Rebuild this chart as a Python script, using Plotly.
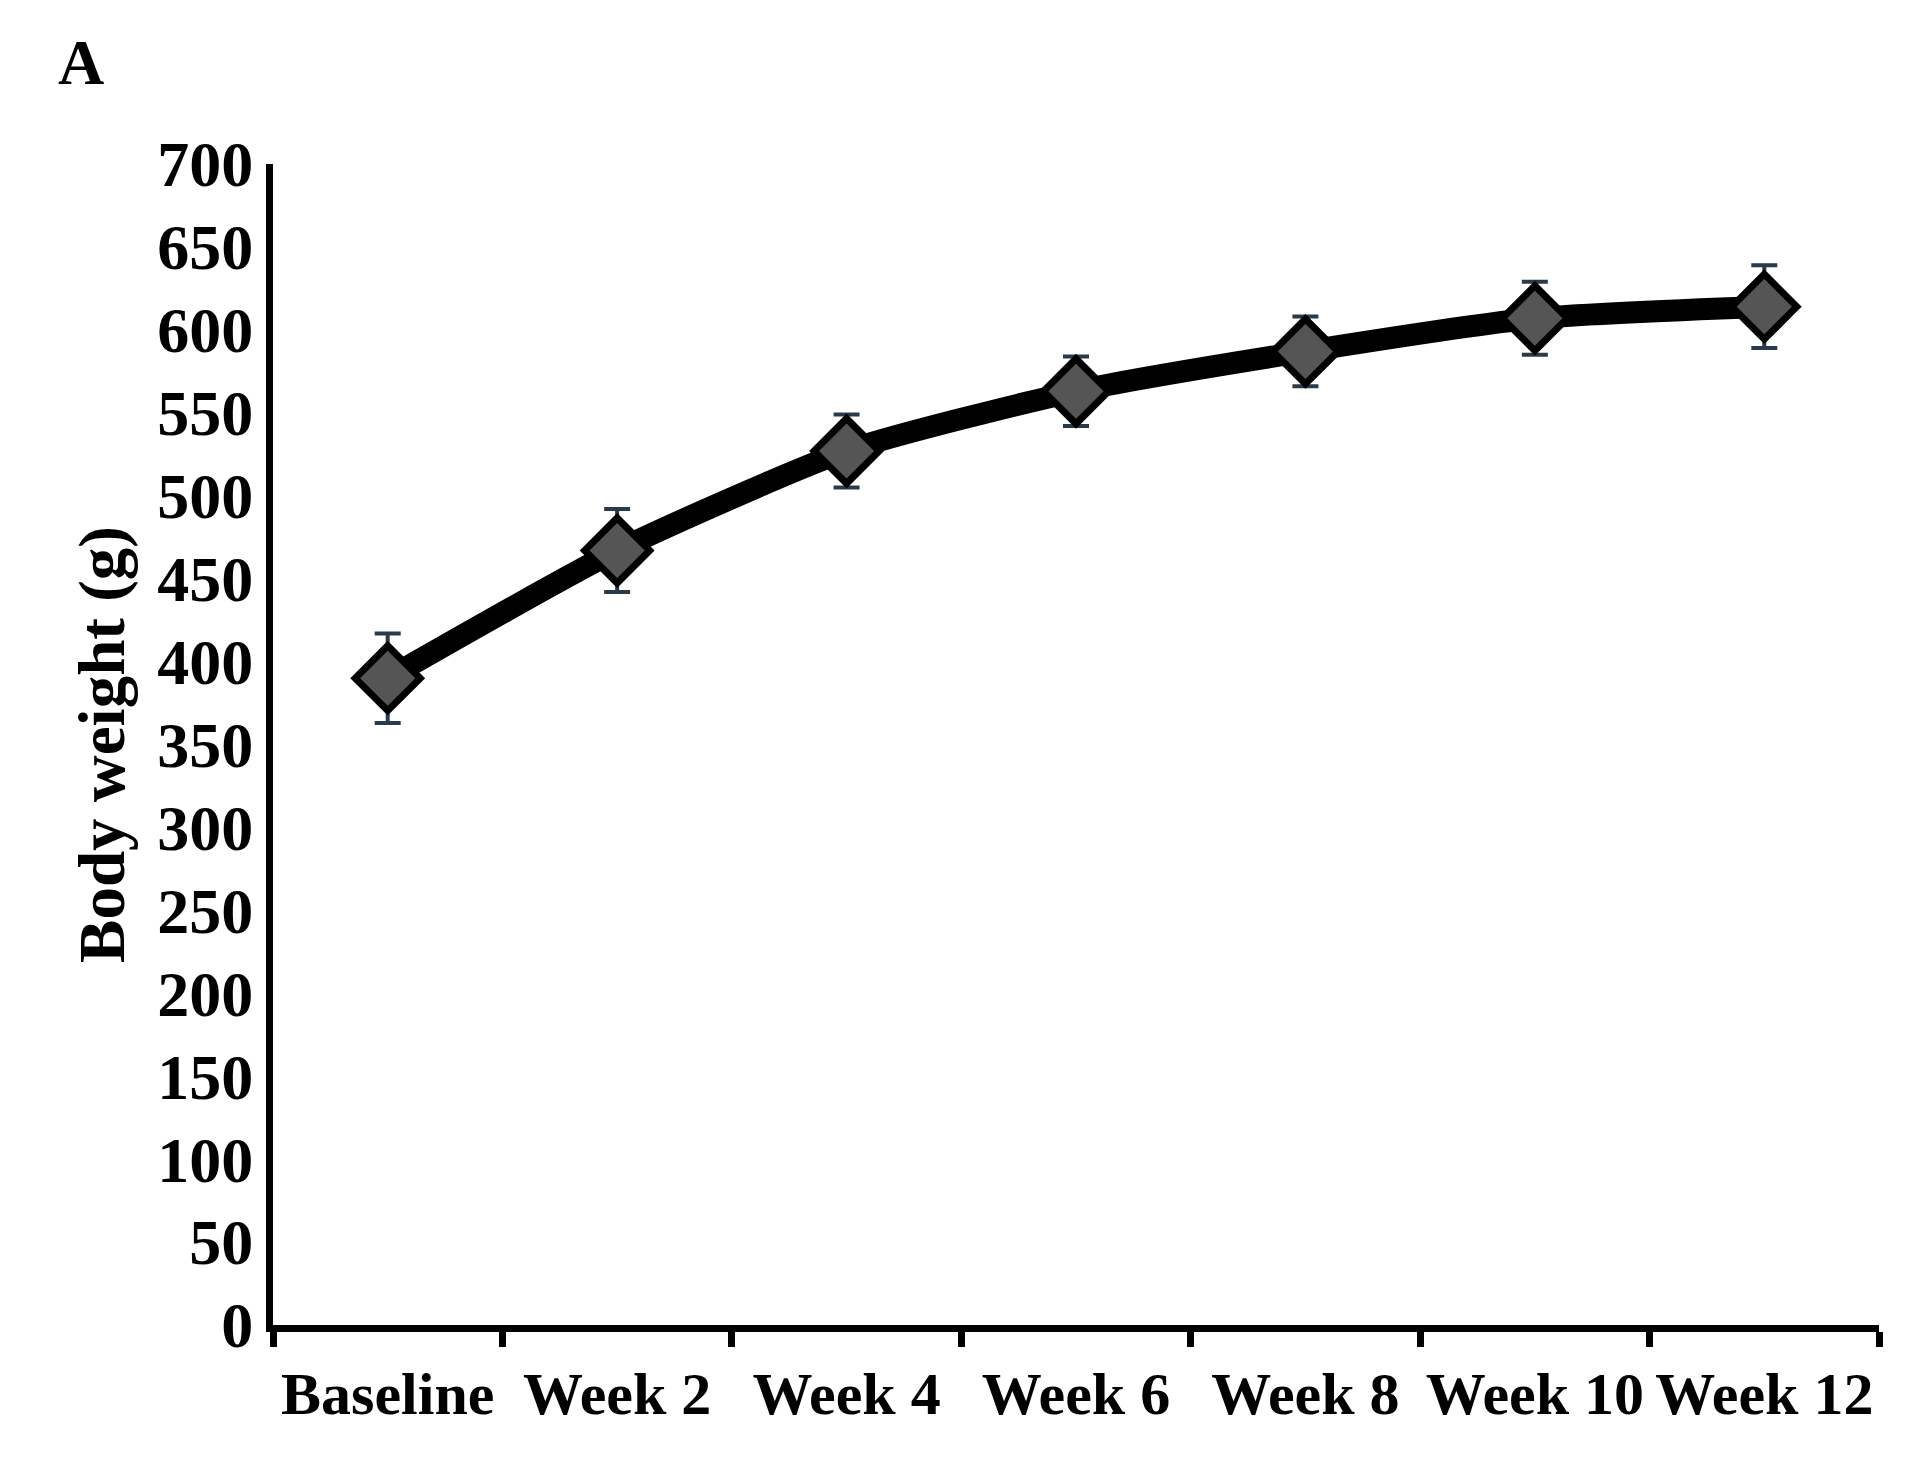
import plotly.graph_objects as go

labels = ["Baseline", "Week 2", "Week 4", "Week 6", "Week 8", "Week 10", "Week 12"]
weights = [390, 467, 527, 563, 587, 607, 614]
errors = [27, 25, 22, 21, 21, 22, 25]

xs = list(range(len(labels)))
W, H = 1920, 1462
L, R, T, B = 265, 49, 156, 145
serif = "Liberation Serif"

fig = go.Figure()
fig.add_trace(go.Scatter(
    x=xs, y=weights, mode="lines+markers",
    line=dict(color="black", width=22, shape="spline", smoothing=0.6),
    marker=dict(symbol="diamond", size=50, color="#555555",
                line=dict(color="black", width=7)),
    error_y=dict(type="data", array=errors, color="#2b3a4a", thickness=4, width=13),
    showlegend=False,
))
# invisible trace on the label axis
fig.add_trace(go.Scatter(x=xs, y=weights, xaxis="x2", mode="markers",
                         marker=dict(opacity=0), showlegend=False, hoverinfo="skip"))

fig.update_layout(
    width=W, height=H,
    paper_bgcolor="white", plot_bgcolor="white",
    margin=dict(l=L, r=R, t=T, b=B),
    xaxis=dict(range=[-0.5, 6.5], tickmode="array",
               tickvals=[i - 0.5 for i in range(len(labels) + 1)],
               ticktext=[""] * (len(labels) + 1),
               ticks="outside", ticklen=15, tickwidth=7, tickcolor="black",
               showline=True, linewidth=7, linecolor="black",
               showgrid=False, zeroline=False),
    xaxis2=dict(range=[-0.5, 6.5], overlaying="x", side="bottom",
                tickmode="array", tickvals=xs, ticktext=[f"<b>{l}</b>" for l in labels],
                ticks="", showline=False, showgrid=False, zeroline=False,
                tickfont=dict(family=serif, size=60, color="black"),
                ticklabelstandoff=28),
    yaxis=dict(range=[0, 700], tickmode="linear", tick0=0, dtick=50,
               showline=True, linewidth=7, linecolor="black",
               showgrid=False, zeroline=False, ticks="",
               tickprefix="<b>", ticksuffix="</b>",
               tickfont=dict(family=serif, size=64, color="black"),
               title=dict(text="<b>Body weight (g)</b>", standoff=14,
                          font=dict(family=serif, size=65, color="black"))),
    annotations=[dict(text="<b>A</b>",
                      x=(48 - L) / (W - L - R), y=1 + (T - 55) / (H - T - B),
                      xref="paper", yref="paper", showarrow=False,
                      font=dict(family=serif, size=64, color="black"),
                      xanchor="left", yanchor="middle")],
)

fig.write_html("out.html")
